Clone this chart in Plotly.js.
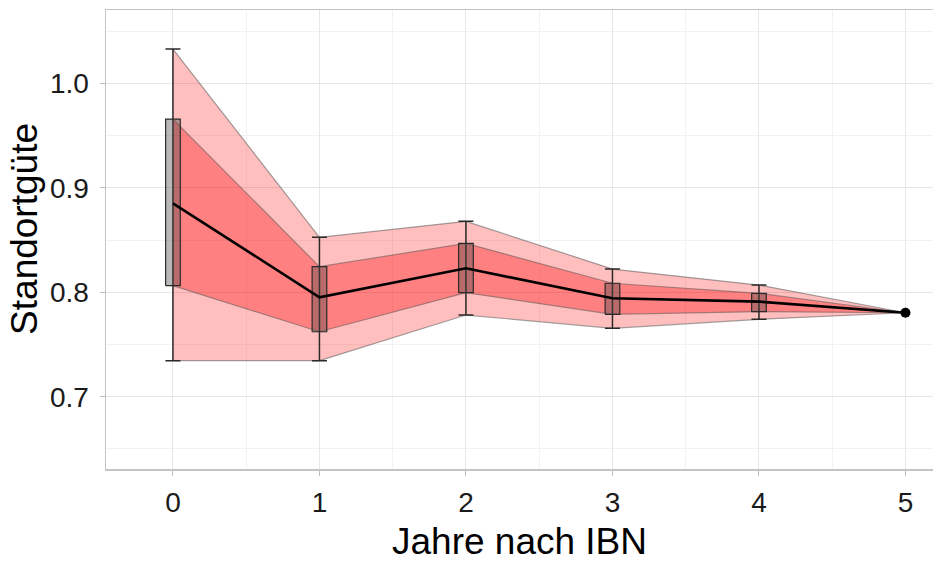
<!DOCTYPE html>
<html>
<head>
<meta charset="utf-8">
<script src="https://cdn.plot.ly/plotly-3.0.1.min.js"></script>
<style>html,body{margin:0;padding:0;background:#fff}#chart{width:933px;height:562px}</style>
</head>
<body>
<div id="chart"></div>
<script>
// Data
const years   = [0, 1, 2, 3, 4, 5];
const minVal  = [0.7345, 0.7345, 0.7782, 0.7655, 0.7741, 0.7804];
const q1Val   = [0.8063, 0.7622, 0.7996, 0.7789, 0.7814, 0.7804];
const median  = [0.8851, 0.7952, 0.8229, 0.7942, 0.7910, 0.7804];
const q3Val   = [0.9658, 0.8245, 0.8468, 0.8086, 0.7990, 0.7804];
const maxVal  = [1.0328, 0.8526, 0.8679, 0.8222, 0.8069, 0.7804];
const xTickVals = [0, 1, 2, 3, 4, 5];
const yTickVals = [0.7, 0.8, 0.9, 1.0];
const yTickText = ['0.7', '0.8', '0.9', '1.0'];
const xTitle = 'Jahre nach IBN';
const yTitle = 'Standortgüte';

const BOX_HALF = 0.05; // box half-width in x units (style)

// boxes only where there is a spread (years 0..4)
const boxIdx = years.map((y, i) => i).filter(i => q3Val[i] > q1Val[i]);
const rev = a => a.slice().reverse();

// box polygons built from the data arrays
const boxX = [], boxY = [];
boxIdx.forEach(i => {
  const x0 = years[i] - BOX_HALF, x1 = years[i] + BOX_HALF;
  boxX.push(x0, x1, x1, x0, x0, null);
  boxY.push(q1Val[i], q1Val[i], q3Val[i], q3Val[i], q1Val[i], null);
});

const traces = [
  { // outer band min-max
    type: 'scatter', mode: 'lines',
    x: years.concat(rev(years)),
    y: maxVal.concat(rev(minVal)),
    fill: 'toself', fillcolor: 'rgba(255,0,0,0.25)',
    line: { color: 'rgba(90,90,90,0.55)', width: 1.2 },
    hoverinfo: 'skip', showlegend: false
  },
  { // inner band q1-q3
    type: 'scatter', mode: 'lines',
    x: years.concat(rev(years)),
    y: q3Val.concat(rev(q1Val)),
    fill: 'toself', fillcolor: 'rgba(255,0,0,0.33)',
    line: { color: 'rgba(90,90,90,0.55)', width: 1.2 },
    hoverinfo: 'skip', showlegend: false
  },
  { // whiskers
    type: 'scatter', mode: 'markers',
    x: boxIdx.map(i => years[i]),
    y: boxIdx.map(i => median[i]),
    marker: { size: 1, opacity: 0 },
    error_y: {
      type: 'data', symmetric: false,
      array: boxIdx.map(i => maxVal[i] - median[i]),
      arrayminus: boxIdx.map(i => median[i] - minVal[i]),
      color: '#2a2a2a', thickness: 1.5, width: 7.5
    },
    hoverinfo: 'skip', showlegend: false
  },
  { // IQR boxes
    type: 'scatter', mode: 'lines',
    x: boxX, y: boxY,
    fill: 'toself', fillcolor: 'rgba(70,70,70,0.38)',
    line: { color: '#2a2a2a', width: 1.2 },
    connectgaps: false,
    hoverinfo: 'skip', showlegend: false
  },
  { // median line
    type: 'scatter', mode: 'lines',
    x: years, y: median,
    line: { color: '#000', width: 2.6 },
    hoverinfo: 'skip', showlegend: false
  },
  { // end point
    type: 'scatter', mode: 'markers',
    x: [years[years.length - 1]], y: [median[median.length - 1]],
    marker: { color: '#000', size: 10 },
    hoverinfo: 'skip', showlegend: false
  }
];

const layout = {
  width: 933, height: 562,
  margin: { l: 106, r: 0, t: 10, b: 93 },
  paper_bgcolor: '#fff', plot_bgcolor: '#fff',
  font: { family: 'Liberation Sans, Arial, sans-serif', color: '#111' },
  showlegend: false,
  xaxis: {
    range: [-0.457, 5.188],
    tickvals: xTickVals,
    ticktext: xTickVals.map(String),
    tickfont: { size: 28, color: '#1a1a1a' },
    ticks: 'outside', ticklen: 5, tickcolor: '#bdbdbd', tickwidth: 1,
    ticklabelstandoff: 3,
    showgrid: true, gridcolor: '#e6e6e6', gridwidth: 1,
    minor: { dtick: 0.5, tick0: 0, showgrid: true, gridcolor: '#f2f2f2', gridwidth: 1 },
    zeroline: false,
    showline: true, mirror: true, linecolor: '#c4c4c4', linewidth: 1.5,
    title: { text: xTitle, font: { size: 37, color: '#000' }, standoff: 18 }
  },
  yaxis: {
    range: [0.6308, 1.0702],
    tickvals: yTickVals,
    ticktext: yTickText,
    tickfont: { size: 28, color: '#1a1a1a' },
    ticks: 'outside', ticklen: 5, tickcolor: '#bdbdbd', tickwidth: 1,
    ticklabelstandoff: 5,
    showgrid: true, gridcolor: '#e6e6e6', gridwidth: 1,
    minor: { dtick: 0.05, tick0: 0, showgrid: true, gridcolor: '#f2f2f2', gridwidth: 1 },
    zeroline: false,
    showline: true, mirror: false, linecolor: '#c4c4c4', linewidth: 1.5
  },
  annotations: [{
    text: yTitle, textangle: -90,
    xref: 'paper', yref: 'paper', x: -0.098, y: 0.523,
    xanchor: 'center', yanchor: 'middle', showarrow: false,
    font: { size: 37, color: '#000' }
  }]
};

Plotly.newPlot('chart', traces, layout, { staticPlot: true, displayModeBar: false });
</script>
</body>
</html>
